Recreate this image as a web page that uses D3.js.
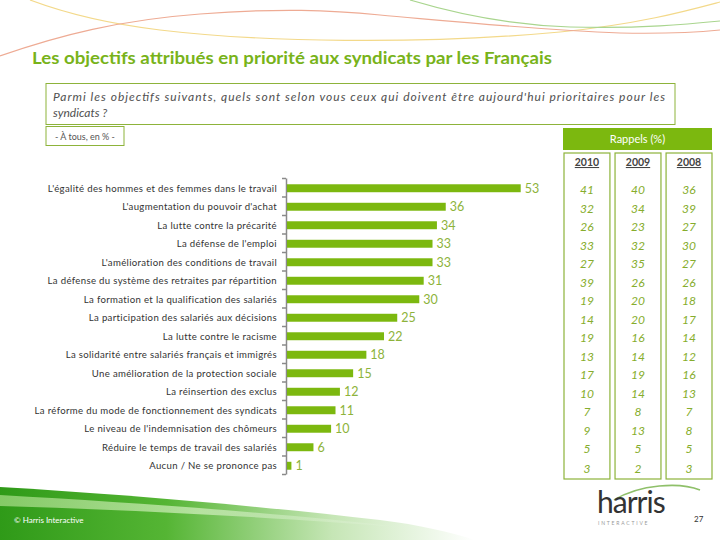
<!DOCTYPE html>
<html><head><meta charset="utf-8">
<script src="https://cdn.jsdelivr.net/npm/d3@7"></script>
<style>
html,body{margin:0;padding:0;background:#fff;}
svg{display:block;font-family:Lato,"Open Sans",sans-serif;}
</style></head>
<body>
<svg id="chart" width="720" height="540"></svg>
<script>
const categories = [
  "L'égalité des hommes et des femmes dans le travail",
  "L'augmentation du pouvoir d'achat",
  "La lutte contre la précarité",
  "La défense de l'emploi",
  "L'amélioration des conditions de travail",
  "La défense du système des retraites par répartition",
  "La formation et la qualification des salariés",
  "La participation des salariés aux décisions",
  "La lutte contre le racisme",
  "La solidarité entre salariés français et immigrés",
  "Une amélioration de la protection sociale",
  "La réinsertion des exclus",
  "La réforme du mode de fonctionnement des syndicats",
  "Le niveau de l'indemnisation des chômeurs",
  "Réduire le temps de travail des salariés",
  "Aucun / Ne se prononce pas"
];
const values = [53,36,34,33,33,31,30,25,22,18,15,12,11,10,6,1];
const years = ["2010","2009","2008"];
const recall2010 = [41,32,26,33,27,39,19,14,19,13,17,10,7,9,5,3];
const recall2009 = [40,34,23,32,35,26,20,20,16,14,19,14,8,13,5,2];
const recall2008 = [36,39,27,30,27,26,18,17,14,12,16,13,7,8,5,3];
const recalls = [recall2010, recall2009, recall2008];

const title = "Les objectifs attribués en priorité aux syndicats par les Français";
const question1 = "Parmi les objectifs suivants, quels sont selon vous ceux qui doivent être aujourd'hui prioritaires pour les";
const question2 = "syndicats ?";
const baseText = "- À tous, en % -";
const recallTitle = "Rappels (%)";

const svg = d3.select("#chart");
const GREEN = "#7cb80f";
const LABELGREEN = "#8db33a";

// defs
const defs = svg.append("defs");
const grad = defs.append("linearGradient").attr("id","swoosh").attr("x1","0").attr("x2","1").attr("y1","0").attr("y2","0");
grad.append("stop").attr("offset","0").attr("stop-color","#2f9a18");
grad.append("stop").attr("offset","0.35").attr("stop-color","#55b534");
grad.append("stop").attr("offset","0.7").attr("stop-color","#c6e6b6");
grad.append("stop").attr("offset","1").attr("stop-color","#ffffff");
const grad2 = defs.append("linearGradient").attr("id","swoosh2").attr("x1","0").attr("x2","1").attr("y1","0").attr("y2","0");
grad2.append("stop").attr("offset","0").attr("stop-color","#9ad67a");
grad2.append("stop").attr("offset","0.5").attr("stop-color","#c9ebb5");
grad2.append("stop").attr("offset","1").attr("stop-color","#ffffff").attr("stop-opacity","0");

// decorative curves at top
const deco = svg.append("g").attr("fill","none").attr("stroke-width",1.2);
deco.append("path").attr("stroke","#f3d98a").attr("d","M30,0 C70,15 110,24 160,30 C260,42 420,45 560,32 C640,24 690,10 720,2");
deco.append("path").attr("stroke","#eeab94").attr("d","M0,56 C60,35 120,20 200,14 C280,8 330,10 380,15 C460,22 540,30 620,33 C670,34 700,32 720,30");
deco.append("path").attr("stroke","#a9d58e").attr("d","M410,0 C460,15 510,25 570,27 C640,29 690,24 720,21");

// bottom swoosh
svg.append("path").attr("fill","url(#swoosh)")
  .attr("d","M0,487 C120,494 260,506 380,520 C420,525 450,532 475,540 L0,540 Z");
svg.append("path").attr("fill","url(#swoosh2)").attr("opacity",0.8)
  .attr("d","M0,495 C140,503 280,513 400,527 C280,518 140,510 0,506 Z");
svg.append("text").attr("x",14).attr("y",523).attr("fill","#fff").attr("font-size",8).text("© Harris Interactive");

// title
svg.append("text").attr("x",32).attr("y",64).attr("fill","#78b31a").attr("font-size",17).attr("font-weight","bold")
  .attr("textLength",520).attr("lengthAdjust","spacingAndGlyphs").text(title);

// question box
svg.append("rect").attr("x",46).attr("y",83.5).attr("width",629).attr("height",41).attr("fill","#fff").attr("stroke","#8db33a").attr("stroke-width",1);
svg.append("text").attr("x",53).attr("y",101).attr("fill","#505050").attr("font-size",12).attr("font-style","italic")
  .attr("textLength",612).attr("lengthAdjust","spacing").text(question1);
svg.append("text").attr("x",53).attr("y",117).attr("fill","#505050").attr("font-size",12).attr("font-style","italic").text(question2);

svg.append("rect").attr("x",46).attr("y",126.5).attr("width",78).attr("height",19).attr("fill","#fff").attr("stroke","#8db33a");
svg.append("text").attr("x",85).attr("y",140).attr("text-anchor","middle").attr("fill","#555").attr("font-size",9).text(baseText);

// scales
const x = d3.scaleLinear().domain([0,53]).range([287,520.7]);
const yTop = 178, yBot = 474;
const y = d3.scaleBand().domain(categories).range([yTop+1, yBot+1]).paddingInner(0.57).paddingOuter(0.285);
const yIdx = d3.scaleLinear().domain([0,categories.length]).range([yTop,yBot]);

// axis
const axisG = svg.append("g").attr("transform","translate(286,0)")
  .call(d3.axisLeft(yIdx).tickValues(d3.range(categories.length+1)).tickSize(4).tickSizeOuter(0).tickFormat(""));
axisG.selectAll("path,line").attr("stroke","#8a8a8a").attr("stroke-width",1.5);

// bars
svg.append("g").selectAll("rect").data(values).join("rect")
  .attr("x", x(0)).attr("y",(d,i)=>y(categories[i]))
  .attr("width", d=>x(d)-x(0)).attr("height", y.bandwidth())
  .attr("fill", GREEN);

// category labels
svg.append("g").selectAll("text").data(categories).join("text")
  .attr("x",277).attr("y",d=>y(d)+y.bandwidth()/2+3.5)
  .attr("text-anchor","end").attr("fill","#333").attr("font-size",9.6).attr("letter-spacing",0.33)
  .text(d=>d);

// value labels
svg.append("g").selectAll("text").data(values).join("text")
  .attr("x",d=>x(d)+4).attr("y",(d,i)=>y(categories[i])+y.bandwidth()/2+4.5)
  .attr("fill",LABELGREEN).attr("font-size",12.5)
  .text(d=>d);

// recall table
svg.append("rect").attr("x",563).attr("y",128).attr("width",149).attr("height",22).attr("fill",GREEN);
svg.append("text").attr("x",637.5).attr("y",143).attr("text-anchor","middle").attr("fill","#fff").attr("font-size",11).text(recallTitle);

const colX = d3.scaleBand().domain(years).range([564,712]).paddingInner(0.1).paddingOuter(0);
const colG = svg.append("g").selectAll("g").data(years).join("g");
colG.append("rect").attr("x",d=>colX(d)).attr("y",153).attr("width",colX.bandwidth()).attr("height",326)
  .attr("fill","#fff").attr("stroke","#8db33a").attr("stroke-width",1.2);
colG.append("text").attr("x",d=>colX(d)+colX.bandwidth()/2).attr("y",166)
  .attr("text-anchor","middle").attr("fill","#444").attr("font-size",10.5).attr("font-weight","bold")
  .attr("text-decoration","underline").text(d=>d);
colG.each(function(yr,j){
  d3.select(this).selectAll("text.v").data(recalls[j]).join("text").attr("class","v")
    .attr("x",colX(yr)+colX.bandwidth()/2)
    .attr("y",(d,i)=>y(categories[i])+y.bandwidth()/2+ (i===categories.length-1?7.5:6))
    .attr("text-anchor","middle").attr("fill","#86ad2c").attr("font-size",12).attr("font-style","italic")
    .text(d=>d);
});

// logo
svg.append("path").attr("fill","none").attr("stroke","#8fc06a").attr("stroke-width",1.6)
  .attr("d","M614,500 C640,484 680,482 700,490");
svg.append("text").attr("x",597).attr("y",513).attr("fill","#333").attr("font-size",30).attr("letter-spacing",-1).text("harris");
svg.append("text").attr("x",598).attr("y",525).attr("fill","#999").attr("font-size",5).attr("letter-spacing",1.8).text("INTERACTIVE");
svg.append("text").attr("x",694).attr("y",522).attr("fill","#333").attr("font-size",8).text("27");
</script>
</body></html>
